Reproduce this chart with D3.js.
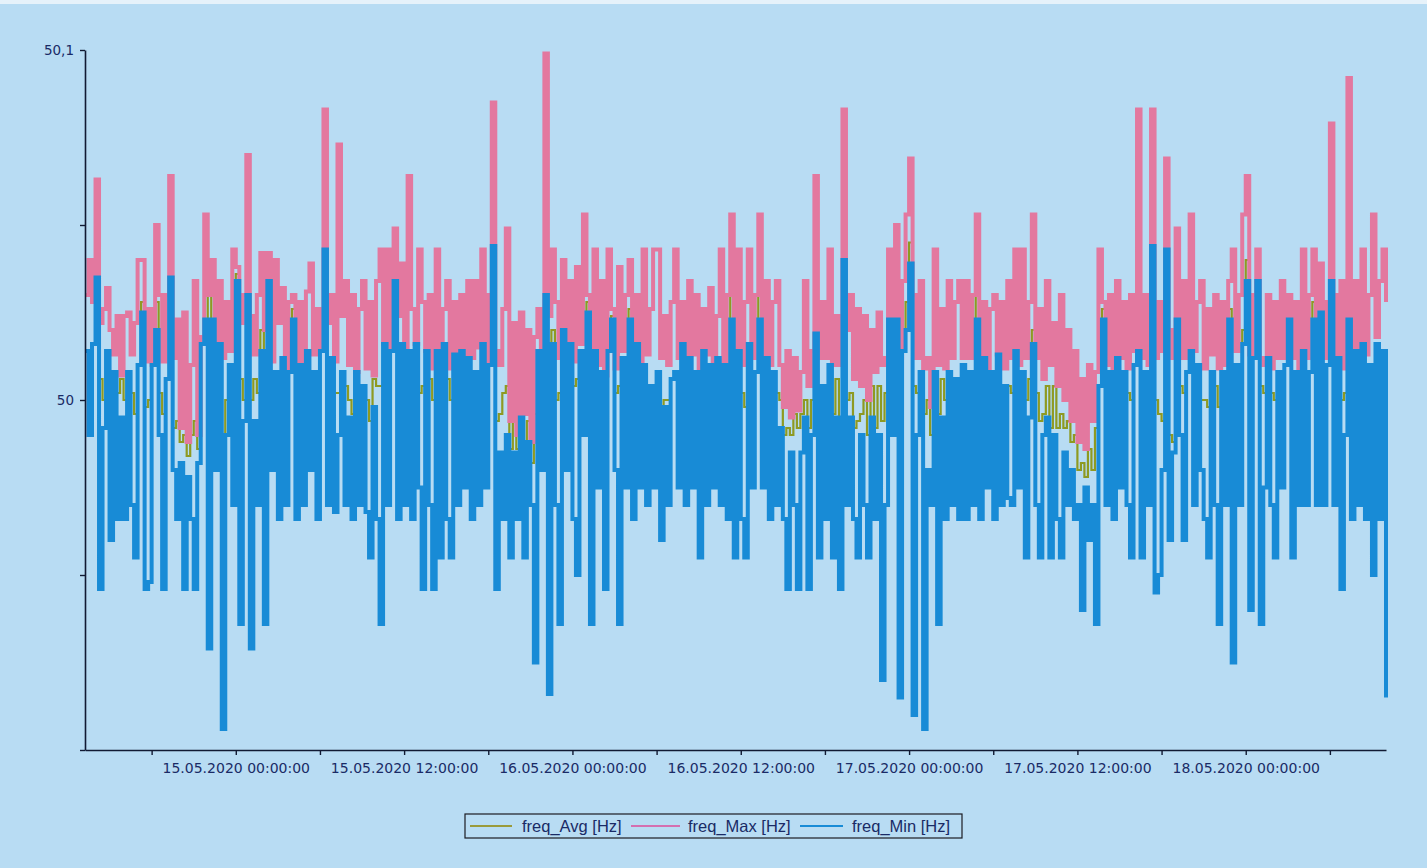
<!DOCTYPE html>
<html>
<head>
<meta charset="utf-8">
<script src="https://cdn.jsdelivr.net/npm/d3@7"></script>
<style>
  html, body { margin: 0; padding: 0; background: #b8dcf3; }
  svg { display: block; }
</style>
</head>
<body>
<svg id="chart" width="1427" height="868"></svg>
<script>
// ---- Data (frequency deviations from 50 Hz, in mHz; one value every 15 minutes) ----
const NOMINAL_HZ = 50;
const START_TIME = "2020-05-14T13:15:00";
const STEP_MINUTES = 15;

const freqMaxDev_mHz = [
  30,40,28,63,22,26,32,20,13,24,7,24,
  25,13,22,40,40,11,26,10,50,30,11,30,
  64,12,23,-8,25,-12,10,34,-10,18,53,30,
  40,11,34,12,28,14,43,38,22,30,70,24,
  13,30,42,20,42,11,40,22,32,9,28,30,
  9,28,11,31,39,13,26,14,83,22,30,11,
  73,24,34,10,30,8,26,34,9,28,7,34,
  43,16,43,15,49,24,39,12,64,26,16,43,
  28,14,30,9,43,12,26,34,9,28,12,30,
  11,34,12,34,15,43,10,30,85,14,10,26,
  49,-6,22,-10,25,-4,20,-12,18,26,8,99,
  24,43,28,12,40,16,34,11,38,16,53,30,
  14,43,10,34,7,43,26,9,38,14,30,40,
  12,30,10,43,13,26,43,43,12,24,10,28,
  43,12,28,10,34,13,30,9,26,13,32,10,
  24,43,11,30,53,12,43,10,28,43,12,30,
  53,13,34,10,28,34,10,-2,14,-5,12,-3,
  8,34,4,14,64,12,28,12,43,10,24,10,
  83,20,30,6,26,4,24,0,20,8,25,10,
  12,43,14,50,12,34,53,69,30,12,34,9,
  12,-2,43,10,26,9,34,12,28,34,12,34,
  12,30,53,12,28,9,26,30,13,28,9,34,
  12,43,10,43,12,28,53,12,26,6,34,10,
  22,4,30,0,20,-6,14,-12,6,-14,10,-6,
  8,43,28,10,30,9,34,12,28,9,30,14,
  83,12,30,10,83,12,28,14,69,20,12,49,
  12,34,12,53,14,28,34,9,26,13,30,9,
  28,10,34,43,14,30,53,64,13,30,43,12,
  10,30,9,28,12,34,12,30,12,28,9,43,
  12,30,43,10,39,12,28,79,30,13,34,9,
  92,12,34,10,43,13,30,53,18,34,43,28
];

const freqMinDev_mHz = [
  14,-10,16,35,-54,-8,14,-40,8,-34,-5,-34,
  8,-30,-45,10,25,-54,-52,10,20,-10,-54,6,
  35,-20,-34,-18,-54,-22,-34,-54,-18,16,23,-71,
  23,-20,16,-94,-10,10,-30,34,-64,-6,30,-71,
  -6,-30,14,-64,34,-20,8,-34,12,-30,8,23,
  -34,10,-30,14,-20,8,-34,14,43,-30,12,-32,
  -10,8,-30,-5,-34,8,-30,4,-32,-45,-2,-34,
  -64,16,-30,14,34,-34,16,-30,14,-34,16,-25,
  -54,14,-30,-54,14,-45,16,-34,-45,13,-30,14,
  -25,12,-34,8,-30,16,-25,10,44,-54,-15,-34,
  -10,-45,-15,-34,-5,-45,-12,-30,-75,14,-20,30,
  -84,16,-30,-64,20,-20,16,-34,-50,14,-10,25,
  -64,14,-25,8,-54,14,23,-20,-64,12,-25,23,
  -34,16,-25,10,-30,4,-25,8,-40,-2,-30,6,
  8,-25,16,-30,12,-25,8,-45,14,-30,10,-25,
  12,-30,10,-34,23,-45,14,-34,-45,16,-25,8,
  23,-25,12,-34,8,-30,-8,-34,-54,-15,-30,-54,
  -15,-5,-54,-10,19,-45,4,-34,10,-45,-5,-54,
  40,-30,-5,-34,-45,-10,-30,-45,-5,-34,-10,-80,
  -30,23,-10,23,-85,14,20,39,-90,-10,8,-94,
  -20,-30,8,-64,-5,-34,8,-30,6,-34,10,-34,
  8,-30,23,-34,12,-25,8,-34,13,-30,4,-28,
  -30,14,-25,8,-45,-5,16,-30,-45,-10,-5,-45,
  -10,-34,-45,-15,-30,-20,-34,-30,-60,-25,-40,-30,
  -64,4,23,-30,8,-34,12,-25,8,-30,-45,10,
  14,-45,8,-30,44,-55,-50,-20,43,-40,-15,23,
  -10,-40,8,14,-30,10,-20,-34,-45,8,-30,-64,
  8,-30,23,-75,10,-30,16,34,-60,12,34,-64,
  -25,12,-30,-45,8,-25,10,23,-45,8,-30,14,
  -30,8,23,-30,25,-30,10,34,-30,12,-54,-10,
  23,-34,14,-30,16,-34,10,-50,16,-34,14,-85
];

const freqAvgDev_mHz = [
  14,2,16,45,6,0,14,4,8,2,6,0,
  8,2,-4,10,28,-2,0,10,28,2,-4,6,
  45,-8,-6,-12,-10,-16,-10,-6,-14,16,30,-6,
  30,0,22,-10,0,10,0,36,6,0,40,0,
  6,2,20,0,36,4,8,2,12,0,8,26,
  0,10,2,14,4,8,2,14,50,4,12,2,
  2,8,4,0,-4,8,2,4,0,-6,6,4,
  4,16,0,14,38,6,16,6,14,4,16,2,
  4,14,6,0,14,2,16,6,0,13,4,14,
  6,12,4,8,4,16,4,10,50,-6,-4,2,
  4,-14,-2,-14,2,-12,-6,-18,-4,14,0,40,
  4,20,0,2,24,6,16,4,6,14,6,28,
  2,14,4,8,0,20,24,2,4,12,4,26,
  4,16,2,10,2,4,4,8,-2,0,0,6,
  8,2,16,2,12,2,8,0,14,2,10,2,
  12,4,10,2,30,0,14,2,-2,16,4,8,
  30,2,12,2,8,2,0,-10,-8,-10,-4,-8,
  -4,0,-8,0,24,0,4,-2,10,-4,6,-6,
  45,0,2,-8,-6,-4,0,-10,4,-8,4,-6,
  2,28,6,30,0,14,28,45,4,2,8,-4,
  0,-10,8,-4,6,0,8,2,6,2,10,2,
  8,2,30,2,12,0,8,2,13,4,4,4,
  2,14,2,8,0,6,20,2,-6,-4,4,-8,
  4,-8,-4,-8,-6,-12,-10,-20,-18,-22,-14,-20,
  -8,4,26,2,8,2,12,4,8,2,0,10,
  20,2,8,0,50,0,-4,-6,48,-10,-12,28,
  4,2,8,20,2,10,0,0,-2,8,4,-2,
  8,2,26,4,10,2,20,40,4,12,38,4,
  2,12,2,0,8,4,10,26,2,8,2,14,
  2,8,28,2,30,2,10,45,4,12,0,2,
  30,2,14,2,16,2,10,2,16,2,14,4
];

const yTickValues = [49.9, 49.95, 50, 50.05, 50.1];
const yTickLabels = {"50": "50", "50.1": "50,1"};
const seriesNames = ["freq_Avg [Hz]", "freq_Max [Hz]", "freq_Min [Hz]"];
const seriesColors = ["#8e9a22", "#e3789f", "#188bd6"];
const legendColors = ["#9a9a3a", "#d46fb0", "#188bd6"];

// ---- Build ----
const startDate = new Date(START_TIME);
const times = freqMaxDev_mHz.map((_, i) => new Date(startDate.getTime() + i * STEP_MINUTES * 60000));
const toHz = d => NOMINAL_HZ + d / 1000;
const series = [freqAvgDev_mHz, freqMaxDev_mHz, freqMinDev_mHz].map(arr =>
  arr.map((d, i) => ({t: times[i], v: toHz(d)})));

const svg = d3.select("#chart");
const fontFam = "'DejaVu Sans', 'Liberation Sans', sans-serif";
const textColor = "#1a2b66";

svg.append("rect").attr("x", 0).attr("y", 0).attr("width", 1427).attr("height", 868).attr("fill", "#b8dcf3");
svg.append("rect").attr("x", 0).attr("y", 0).attr("width", 1427).attr("height", 4).attr("fill", "#e6f2fa");

const x = d3.scaleTime().domain([times[0], times[times.length - 1]]).range([85, 1386]);
const y = d3.scaleLinear().domain([49.9, 50.1]).range([750, 50]);

const line = d3.line().x(d => x(d.t)).y(d => y(d.v)).curve(d3.curveStepAfter);
const widths = [2.2, 4, 4];

svg.append("clipPath").attr("id", "plotclip")
  .append("rect").attr("x", 86).attr("y", 40).attr("width", 1302).attr("height", 709);

const plot = svg.append("g").attr("clip-path", "url(#plotclip)");
series.forEach((s, k) => {
  plot.append("path")
    .datum(s)
    .attr("d", line)
    .attr("fill", "none")
    .attr("stroke", seriesColors[k])
    .attr("stroke-width", widths[k])
    .attr("stroke-linejoin", "miter")
    .attr("stroke-linecap", "butt");
});

// X axis
const fmt = d3.timeFormat("%d.%m.%Y %H:%M:%S");
const xAxis = d3.axisBottom(x)
  .ticks(d3.timeHour.every(6))
  .tickSize(5).tickSizeOuter(0).tickPadding(8)
  .tickFormat(d => (d.getHours() % 12 === 0) ? fmt(d) : "");
const gx = svg.append("g").attr("transform", "translate(0,750)").call(xAxis);
gx.select(".domain").attr("stroke", "#111a33").attr("stroke-width", 1.6);
gx.selectAll(".tick line").attr("stroke", "#111a33").attr("stroke-width", 1.4);
gx.selectAll("text").attr("fill", textColor).attr("font-family", fontFam).attr("font-size", 14);

// Y axis
const yAxis = d3.axisLeft(y)
  .tickValues(yTickValues)
  .tickSize(5).tickSizeOuter(0).tickPadding(6)
  .tickFormat(v => yTickLabels[String(+v.toFixed(2))] || "");
const gy = svg.append("g").attr("transform", "translate(85,0)").call(yAxis);
gy.select(".domain").attr("stroke", "#111a33").attr("stroke-width", 1.6);
gy.selectAll(".tick line").attr("stroke", "#111a33").attr("stroke-width", 1.4);
gy.selectAll("text").attr("fill", textColor).attr("font-family", fontFam).attr("font-size", 13.5);

// Legend
const lg = svg.append("g");
lg.append("rect").attr("x", 465).attr("y", 814).attr("width", 497).attr("height", 24)
  .attr("fill", "none").attr("stroke", "#1b1b22").attr("stroke-width", 1.2);
const legendItems = [
  {lx1: 470, lx2: 512, tx: 522},
  {lx1: 631, lx2: 680, tx: 688},
  {lx1: 800, lx2: 843, tx: 852}
];
legendItems.forEach((it, k) => {
  lg.append("line").attr("x1", it.lx1).attr("x2", it.lx2).attr("y1", 826).attr("y2", 826)
    .attr("stroke", legendColors[k]).attr("stroke-width", 2);
  lg.append("text").attr("x", it.tx).attr("y", 832)
    .attr("font-family", "'Liberation Sans', Arial, sans-serif").attr("font-size", 16.5)
    .attr("fill", textColor).text(seriesNames[k]);
});
</script>
</body>
</html>
